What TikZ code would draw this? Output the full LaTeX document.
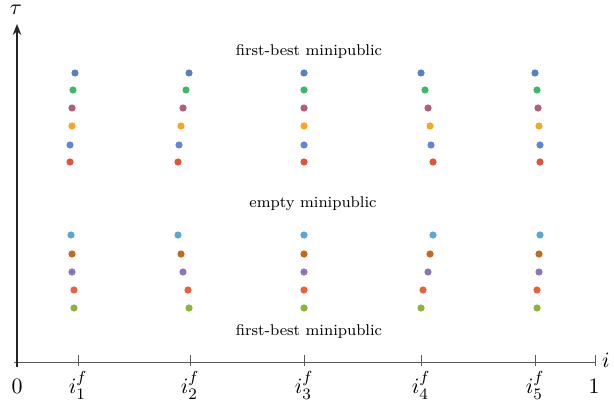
\documentclass[tikz,border=0pt]{standalone}
\usepackage{amsmath, amssymb}
\usepackage{tikz}
\usetikzlibrary{positioning, calc, arrows.meta}
\definecolor{axisgray}{RGB}{90, 90, 90}
\definecolor{dotA}{HTML}{5A80BD}
\definecolor{dotB}{HTML}{3DB86B}
\definecolor{dotC}{HTML}{B55B80}
\definecolor{dotD}{HTML}{F5A623}
\definecolor{dotE}{HTML}{6685D1}
\definecolor{dotF}{HTML}{E25435}
\definecolor{dotG}{HTML}{5CA6D4}
\definecolor{dotH}{HTML}{C0691F}
\definecolor{dotI}{HTML}{8878BA}
\definecolor{dotJ}{HTML}{EE5F38}
\definecolor{dotK}{HTML}{8BB43A}

\begin{document}
\begin{tikzpicture}[x=0.5pt, y=-0.5pt, every node/.style={inner sep=0pt}]
    \tikzstyle{dot} = [circle, inner sep=0pt, minimum size=3.6pt]
    \tikzstyle{axis} = [draw=axisgray, line width=0.5pt]
    \tikzstyle{arrow} = [draw=black!85, line width=0.55pt, -{Stealth[length=5.5pt, width=4.3pt]}]
    \tikzstyle{txt} = [font=\fontsize{7.8}{10}\selectfont, anchor=base]
    \tikzstyle{lab} = [font=\fontsize{11.3}{13}\selectfont, anchor=base]

    \useasboundingbox (0,0) rectangle (614,406);

    % Axes
    \coordinate (O) at (17,362);
    \coordinate (top) at (17,24);
    \coordinate (start) at (14,362);
    \coordinate (one) at (595,362);
    \draw [axis] (start) -- (one);
    \draw [arrow] ($(O)+(0,5)$) -- (top);
    \draw [axis] (one) ++(0,-7) -- ++(0,11);
    \node (tau) [lab] at (16,15) {$\tau$};
    \node (iax) [lab] at (606,367) {$i$};
    \node (zero) [lab] at (17,393) {$0$};
    \node (onel) [lab] at (594,393) {$1$};

    % Ticks i_k^f
    \foreach \x/\n in {78/1, 190/2, 304/3, 421/4, 535/5} {
        \coordinate (k\n) at (\x,362);
        \draw [axis] (k\n) ++(0,-7) -- ++(0,11);
        \node (l\n) [lab] at (\x,393) {$i^f_{\n}$};
    }

    % Labels
    \node (fbtop) [txt] at (309,56) {first-best minipublic};
    \node (empty) [txt] at (313,207.5) {empty minipublic};
    \node (fbbot) [txt] at (309,335) {first-best minipublic};

    % Upper group of dots
    \foreach \y/\c/\xs [count=\r] in {73/dotA/{75,189,304,421,535},
                                      90/dotB/{73,186,304,425,537},
                                      108/dotC/{72,183,304,428,538},
                                      126/dotD/{72,181,304,430,539},
                                      145/dotE/{70,179,304,431,540},
                                      162/dotF/{70,178,304,433,540}} {
        \foreach \x [count=\k] in \xs
            \node (u\r-\k) [dot, fill=\c] at (\x,\y) {};
    }

    % Lower group of dots
    \foreach \y/\c/\xs [count=\r] in {235/dotG/{71,178,304,433,540},
                                      254/dotH/{72,181,304,430,539},
                                      272/dotI/{72,183,304,428,539},
                                      290/dotJ/{74,188,304,423,537},
                                      308/dotK/{74,189,304,421,537}} {
        \foreach \x [count=\k] in \xs
            \node (d\r-\k) [dot, fill=\c] at (\x,\y) {};
    }
\end{tikzpicture}
\end{document}
